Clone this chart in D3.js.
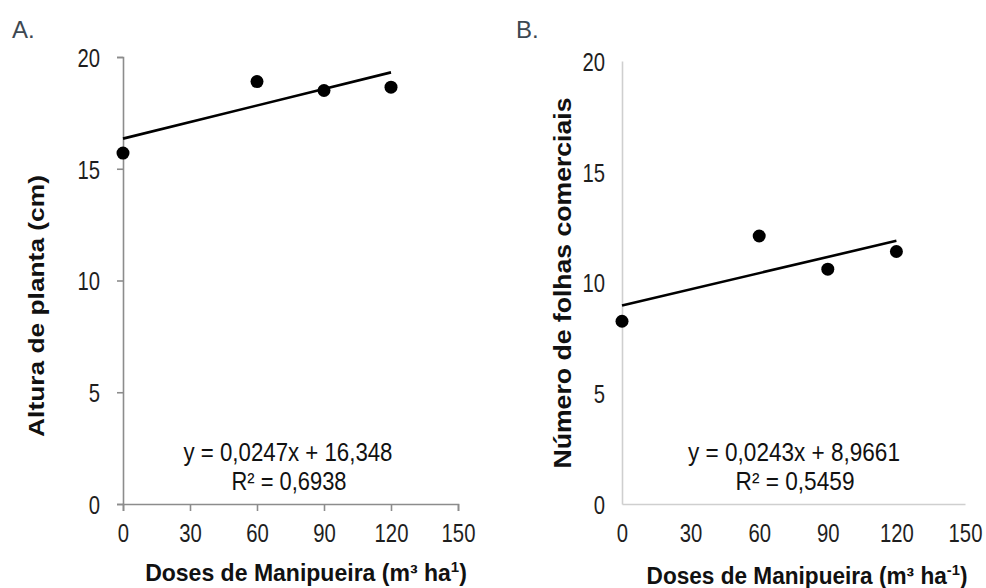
<!DOCTYPE html>
<html>
<head>
<meta charset="utf-8">
<script src="https://cdn.jsdelivr.net/npm/d3@7"></script>
<style>
  body { margin:0; background:#fff; }
  text { font-family:"Liberation Sans",Arial,sans-serif; }
  .tick text { font-size:26px; fill:#1e1e1e; }
  .ttl { font-size:23px; font-weight:bold; fill:#111; }
  .eq { font-size:25px; fill:#111; }
  .panel { font-size:24px; fill:#3d4852; }
</style>
</head>
<body>
<div id="chart"></div>
<script>
// doses (m3/ha)
var doses = [0, 60, 90, 120];
var xTicks = [0, 30, 60, 90, 120, 150];
var yTicks = [0, 5, 10, 15, 20];

// A: plant height (cm)
var alturaVals = [15.7, 18.9, 18.5, 18.65];
var alturaFit = {a:0.0247, b:16.348, r2:"R² = 0,6938", eq:"y = 0,0247x + 16,348"};

// B: commercial leaves
var folhasVals = [8.25, 12.1, 10.6, 11.4];
var folhasFit = {a:0.0243, b:8.9661, r2:"R² = 0,5459", eq:"y = 0,0243x + 8,9661"};

var svg = d3.select("#chart").append("svg")
  .attr("width", 986)
  .attr("height", 588);

// squeeze a text horizontally to a target width (narrow font look)
function squeeze(t, cx, cy, target, rot){
  var wd = t.node().getComputedTextLength();
  var k = target / wd;
  if(rot) t.attr("transform","translate("+cx+","+cy+") rotate(-90) scale("+k+",1)");
  else t.attr("transform","translate("+cx+","+cy+") scale("+k+",1)");
}

var tickK = 0.78;

function drawPanel(opt){
  var g = svg.append("g").attr("transform","translate("+opt.left+","+opt.top+")");
  var w = opt.w, h = opt.h;

  var x = d3.scaleLinear().domain([0,150]).range([0,w]);
  var y = d3.scaleLinear().domain([0,20]).range([h,0]);

  var yAxis = d3.axisLeft(y).tickValues(yTicks).tickSizeOuter(0)
    .tickSize(opt.ticks ? 6 : 0);
  var xAxis = d3.axisBottom(x).tickValues(xTicks).tickSizeOuter(0)
    .tickSize(opt.ticks ? 7 : 0).tickPadding(opt.ticks ? 13 : 20);

  var gy = g.append("g").call(yAxis);
  var gx = g.append("g").attr("transform","translate(0,"+h+")").call(xAxis);
  [gx, gy].forEach(function(a){
    a.select(".domain").attr("stroke", opt.axisColor).attr("stroke-width",1.6);
    a.selectAll(".tick line").attr("stroke", opt.axisColor).attr("stroke-width",1.6);
  });
  gy.selectAll(".tick text")
    .attr("x", -opt.yLabGap / tickK)
    .attr("dy","0.36em")
    .attr("transform","scale("+tickK+",1)");
  gx.selectAll(".tick text")
    .attr("transform","scale("+tickK+",1)");

  // trend line
  g.append("line")
    .attr("x1", x(0)).attr("y1", y(opt.fit.b))
    .attr("x2", x(120)).attr("y2", y(opt.fit.a*120 + opt.fit.b))
    .attr("stroke","#000").attr("stroke-width",2.6);

  g.selectAll(".pt")
    .data(doses.map(function(d,i){ return {x:d, y:opt.vals[i]}; }))
    .enter().append("circle")
    .attr("class","pt")
    .attr("cx", function(d){ return x(d.x); })
    .attr("cy", function(d){ return y(d.y); })
    .attr("r", 6.5)
    .attr("fill","#000");

  var e1 = svg.append("text").attr("class","eq").attr("text-anchor","middle").text(opt.fit.eq);
  squeeze(e1, opt.eqX, 461, opt.eqW);
  var e2 = svg.append("text").attr("class","eq").attr("text-anchor","middle").text(opt.fit.r2);
  squeeze(e2, opt.eqX + 1, 490, opt.r2W);

  var yt = svg.append("text").attr("class","ttl").attr("text-anchor","middle").text(opt.yTitle);
  squeeze(yt, opt.yTitleX, opt.yTitleY, opt.yTitleW, true);

  var xt = svg.append("text").attr("class","ttl").attr("text-anchor","middle");
  xt.append("tspan").text("Doses de Manipueira (m³ ha");
  xt.append("tspan").attr("dy",-9).attr("font-size",15).text(opt.sup);
  xt.append("tspan").attr("dy",9).text(")");
  var bw = xt.node().getBBox().width;
  xt.attr("transform","translate("+opt.xTitleX+","+opt.xTitleY+") scale("+(opt.xTitleW/bw)+",1)");

  svg.append("text").attr("class","panel")
    .attr("x", opt.panelX).attr("y", 38).text(opt.panel);
}

drawPanel({
  left:123, top:57, w:335, h:447,
  vals:alturaVals, fit:alturaFit, ticks:true, axisColor:"#8c8c8c", yLabGap:23,
  eqX:288, eqW:209, r2W:115,
  yTitleX:44, yTitleY:306, yTitleW:262, yTitle:"Altura de planta (cm)",
  xTitleX:306, xTitleY:581, xTitleW:322, sup:"1",
  panel:"A.", panelX:12
});

drawPanel({
  left:622, top:61, w:343, h:443,
  vals:folhasVals, fit:folhasFit, ticks:false, axisColor:"#cfcfcf", yLabGap:17,
  eqX:794, eqW:212, r2W:119,
  yTitleX:571, yTitleY:283, yTitleW:371, yTitle:"Número de folhas comerciais",
  xTitleX:807, xTitleY:584, xTitleW:321, sup:"-1",
  panel:"B.", panelX:516
});
</script>
</body>
</html>
